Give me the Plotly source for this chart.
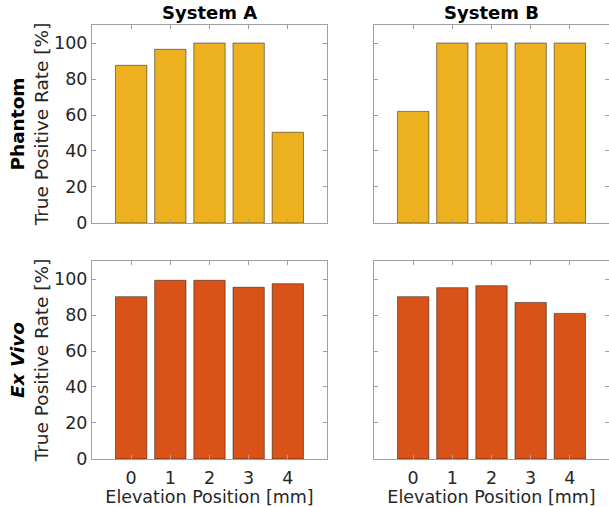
import plotly.graph_objects as go

# Elevation positions (mm) and true positive rates (%)
positions = [0, 1, 2, 3, 4]
phantom_a = [87.6, 96.5, 100, 100, 50.4]
phantom_b = [62.0, 100, 100, 100, 100]
exvivo_a = [90.2, 99.3, 99.3, 95.4, 97.4]
exvivo_b = [90.2, 95.2, 96.3, 87.0, 80.9]

systems = ["System A", "System B"]
yticks = [0, 20, 40, 60, 80, 100]

yellow = "#EDB120"
orange = "#D95319"
text_col = "#262626"
axis_col = "#a0a0a0"
font_family = "DejaVu Sans"
fs = 17.5

fig = go.Figure()

panels = [
    (phantom_a, yellow, "x", "y"),
    (phantom_b, yellow, "x2", "y2"),
    (exvivo_a, orange, "x3", "y3"),
    (exvivo_b, orange, "x4", "y4"),
]
for vals, col, xa, ya in panels:
    fig.add_trace(go.Bar(
        x=positions, y=vals, width=0.8, xaxis=xa, yaxis=ya,
        marker=dict(color=col, line=dict(color="rgba(0,0,0,0.45)", width=1)),
        showlegend=False, hoverinfo="x+y",
    ))

xd_left = [0, 0.4545]
xd_right = [0.5455, 1.0]
yd_top = [0.5438, 1.0]
yd_bot = [0.0, 0.4562]

def xaxis(domain, anchor, labels):
    return dict(
        domain=domain, anchor=anchor, range=[-1, 5],
        tickvals=positions, showticklabels=labels,
        ticks="inside", ticklen=4, tickcolor=axis_col,
        showline=True, linecolor=axis_col, linewidth=1, mirror="ticks",
        showgrid=False, zeroline=False, ticklabelstandoff=3,
        tickfont=dict(size=fs, color=text_col, family=font_family),
        fixedrange=True,
    )

def yaxis(domain, anchor, labels):
    return dict(
        domain=domain, anchor=anchor, range=[0, 110],
        tickvals=yticks, showticklabels=labels,
        ticks="inside", ticklen=4, tickcolor=axis_col,
        showline=True, linecolor=axis_col, linewidth=1, mirror="ticks",
        showgrid=False, zeroline=False,
        tickfont=dict(size=fs, color=text_col, family=font_family),
        fixedrange=True,
    )

xtitle = dict(text="Elevation Position [mm]",
              font=dict(size=fs, color=text_col, family=font_family), standoff=5)

ytitle_font = dict(size=18.5, color=text_col, family=font_family)

fig.update_layout(
    width=609, height=507,
    margin=dict(l=92, r=0, t=25, b=48),
    paper_bgcolor="white", plot_bgcolor="white",
    font=dict(family=font_family, color=text_col),
    bargap=0.2,
    xaxis=xaxis(xd_left, "y", False),
    xaxis2=xaxis(xd_right, "y2", False),
    xaxis3={**xaxis(xd_left, "y3", True), "title": xtitle},
    xaxis4={**xaxis(xd_right, "y4", True), "title": xtitle},
    yaxis=dict(**yaxis(yd_top, "x", True),
               title=dict(text="<b><span style='color:#000000'>Phantom</span></b><br>True Positive Rate [%]",
                          font=ytitle_font, standoff=0)),
    yaxis2=yaxis(yd_top, "x2", False),
    yaxis3=dict(**yaxis(yd_bot, "x3", True),
                title=dict(text="<b><i><span style='color:#000000'>Ex Vivo</span></i></b><br>True Positive Rate [%]",
                           font=ytitle_font, standoff=0)),
    yaxis4=yaxis(yd_bot, "x4", False),
)

# Column headings
for name, dom in zip(systems, [xd_left, xd_right]):
    fig.add_annotation(
        text=f"<b>{name}</b>", x=(dom[0] + dom[1]) / 2, y=1.0,
        xref="paper", yref="paper", xanchor="center", yanchor="bottom",
        yshift=0, showarrow=False,
        font=dict(size=18, color="#000000", family=font_family),
    )

fig.write_html("out.html")
